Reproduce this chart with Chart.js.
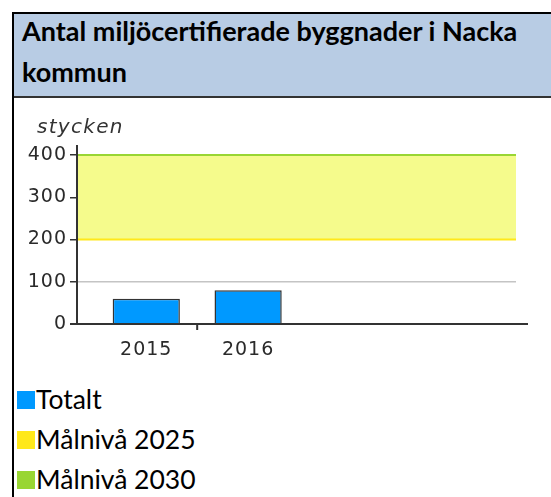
<!DOCTYPE html>
<html>
<head>
<meta charset="utf-8">
<script src="https://cdn.jsdelivr.net/npm/chart.js@4/dist/chart.umd.min.js"></script>
<style>
    body { margin: 0; background: #fff; width: 551px; height: 497px; overflow: hidden; position: relative; }
    .frame { position: absolute; left: 12px; top: 12px; width: 560px; height: 500px; border-left: 2px solid #000; border-top: 2px solid #000; }
    .header { position: absolute; left: 14px; top: 14px; width: 540px; height: 82px; background: #b8cce4; border-bottom: 2px solid #333; overflow: hidden; }
    .header div { position: absolute; left: 8px; top: -4px; font-family: Lato, sans-serif; font-weight: 700; font-size: 27px; line-height: 41px; color: #000; white-space: nowrap; }
    #chartBox { position: absolute; left: 14px; top: 99px; width: 537px; height: 272px; }
    .legend { position: absolute; left: 17px; top: 379px; font-family: Lato, sans-serif; font-size: 26.5px; color: #000; }
    .legend div { height: 40px; line-height: 40px; white-space: nowrap; }
    .legend span.sw { display: inline-block; width: 18px; height: 18px; margin-right: 1px; }
</style>
</head>
<body>
<div class="frame"></div>
<div class="header"><div>Antal miljöcertifierade byggnader i Nacka<br>kommun</div></div>
<div id="chartBox"><canvas id="chart" width="537" height="272"></canvas></div>
<div class="legend" id="legend"></div>
<script>
const years = [2015, 2016];
const totalt = [60, 80];
const malniva2025 = [200, 200];
const malniva2030 = [400, 400];
const xRange = [2014.32, 2018.63];
const yTicks = [0, 100, 200, 300, 400];

const colors = { totalt: '#0099ff', m2025: '#ffe81a', m2030: '#99d633', band: '#f5fb8c' };

// draws axis lines, the divider tick and the unit label
const axisPlugin = {
    id: 'axisExtras',
    beforeDraw(chart) {
        chart.ctx.letterSpacing = '1px';
    },
    afterDatasetsDraw(chart) {
        const { ctx, chartArea, scales } = chart;
        ctx.save();
        ctx.strokeStyle = '#333';
        ctx.lineWidth = 2;
        ctx.beginPath();
        ctx.moveTo(chartArea.left, chartArea.top - 10);
        ctx.lineTo(chartArea.left, chartArea.bottom);
        ctx.moveTo(chartArea.left - 7, chartArea.bottom);
        ctx.lineTo(chartArea.right + 12, chartArea.bottom);
        const mid = scales.x.getPixelForValue((years[0] + years[1]) / 2);
        ctx.moveTo(mid, chartArea.bottom);
        ctx.lineTo(mid, chartArea.bottom + 6);
        ctx.stroke();
        ctx.fillStyle = '#333';
        ctx.letterSpacing = '1.3px';
        ctx.font = 'italic 20px "DejaVu Sans"';
        ctx.textBaseline = 'middle';
        ctx.fillText('stycken', 23, 29);
        ctx.restore();
    }
};

new Chart(document.getElementById('chart'), {
    type: 'bar',
    data: {
        datasets: [{
            label: 'Totalt',
            data: years.map((y, i) => ({ x: y, y: totalt[i] })),
            backgroundColor: colors.totalt,
            borderColor: '#333',
            borderWidth: 1.5,
            barPercentage: 0.66,
            categoryPercentage: 1,
            order: 1
        }, {
            type: 'line',
            label: 'Målnivå 2025',
            data: xRange.map((x, i) => ({ x: x, y: malniva2025[i] })),
            borderColor: colors.m2025,
            borderWidth: 2,
            pointRadius: 0,
            fill: false,
            clip: false,
            order: 2
        }, {
            type: 'line',
            label: 'Målnivå 2030',
            data: xRange.map((x, i) => ({ x: x, y: malniva2030[i] })),
            borderColor: colors.m2030,
            borderWidth: 2,
            pointRadius: 0,
            backgroundColor: colors.band,
            fill: '-1',
            clip: false,
            order: 3
        }]
    },
    options: {
        responsive: false,
        animation: false,
        layout: { padding: { left: 13, right: 35, top: 56, bottom: 12 } },
        plugins: { legend: { display: false }, tooltip: { enabled: false } },
        scales: {
            x: {
                type: 'linear',
                offset: false,
                min: xRange[0],
                max: xRange[1],
                afterBuildTicks: s => { s.ticks = years.map(v => ({ value: v })); },
                afterFit: s => { s.height = 35; },
                grid: { display: false },
                border: { display: false },
                ticks: { padding: 7, color: '#2a2a2a', font: { family: 'DejaVu Sans', size: 19 }, callback: v => String(v) }
            },
            y: {
                min: 0,
                max: 400,
                afterBuildTicks: s => { s.ticks = yTicks.map(v => ({ value: v })); },
                afterFit: s => { s.width = 50; },
                border: { display: false },
                grid: {
                    tickLength: 7,
                    tickColor: '#333',
                    lineWidth: 1.5,
                    color: c => (c.tick && (c.tick.value === 100 || c.tick.value === 300)) ? '#c4c4c4' : 'rgba(0,0,0,0)'
                },
                ticks: { padding: 3, color: '#2a2a2a', font: { family: 'DejaVu Sans', size: 19 } }
            }
        }
    },
    plugins: [axisPlugin]
});

const legendItems = [['Totalt', colors.totalt], ['Målnivå 2025', colors.m2025], ['Målnivå 2030', colors.m2030]];
document.getElementById('legend').innerHTML = legendItems
    .map(([name, c]) => `<div><span class="sw" style="background:${c}"></span>${name}</div>`).join('');
</script>
</body>
</html>
